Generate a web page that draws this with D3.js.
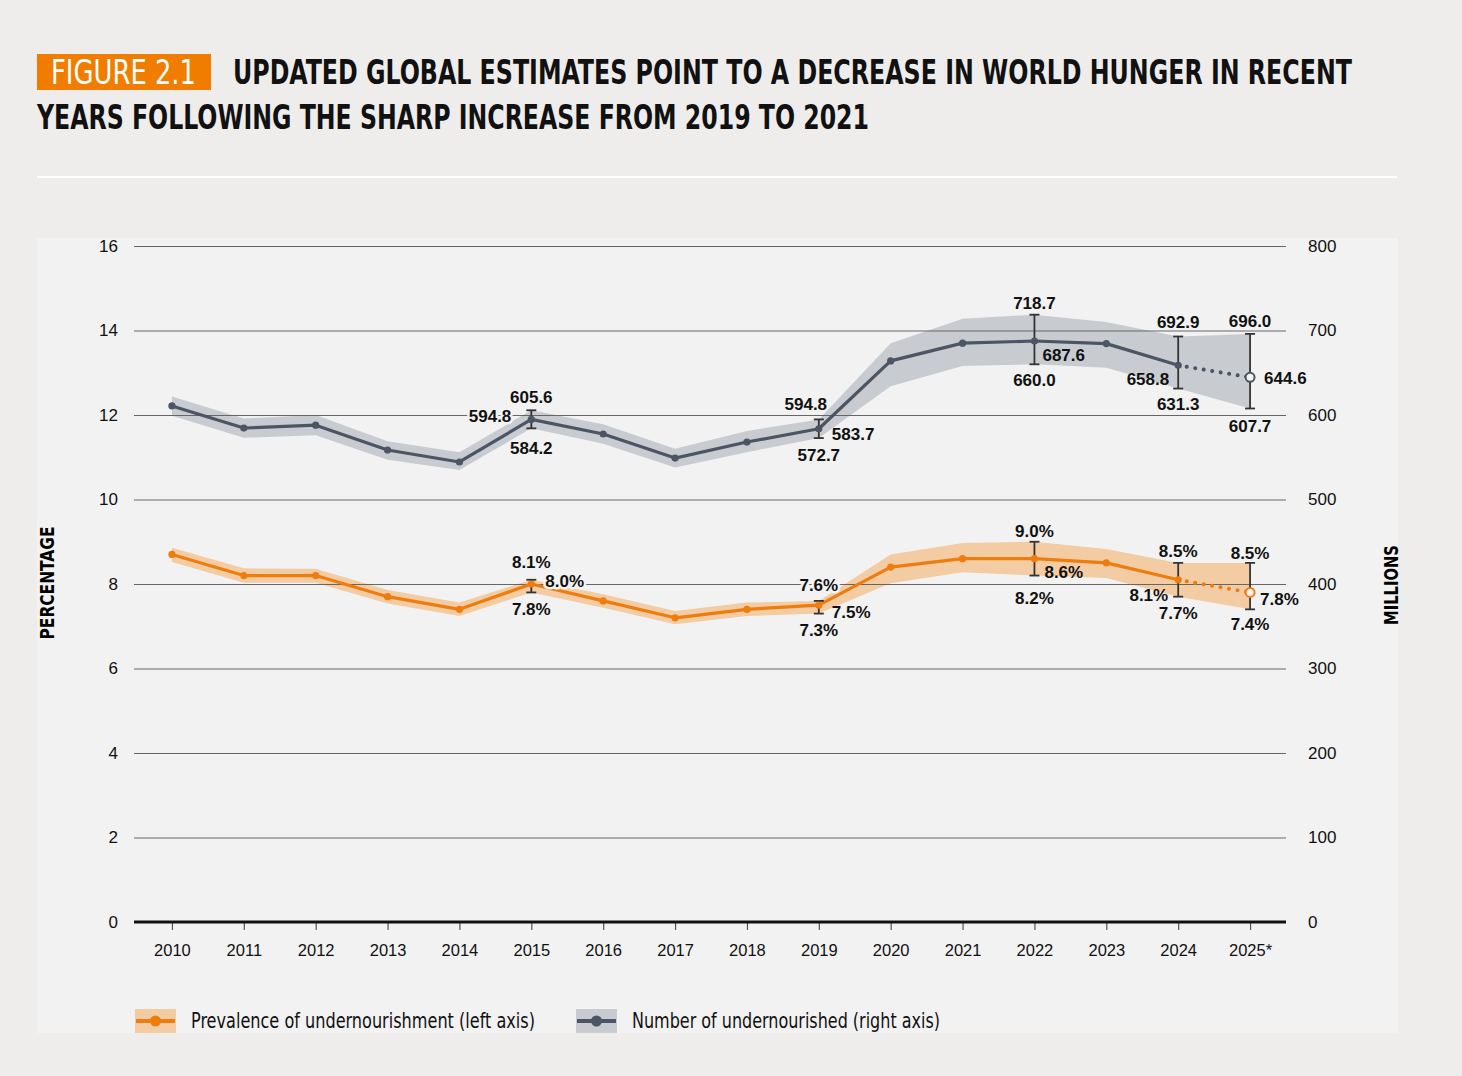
<!DOCTYPE html>
<html><head><meta charset="utf-8">
<script src="https://cdn.jsdelivr.net/npm/d3@7"></script>
<style>
body{margin:0;background:#eeedeb;}
svg{display:block;font-family:"Liberation Sans Narrow","DejaVu Sans Condensed","Liberation Sans",sans-serif;}
.num{font-family:"Liberation Sans",Arial,sans-serif;}
</style></head><body>
<svg id="c" width="1462" height="1076"></svg>
<script>
// ---------- DATA ----------
const years = ["2010","2011","2012","2013","2014","2015","2016","2017","2018","2019","2020","2021","2022","2023","2024","2025*"];
const pouValue = [8.7,8.2,8.2,7.7,7.4,8.0,7.6,7.2,7.4,7.5,8.4,8.6,8.6,8.5,8.1,7.8];
const pouLower = [8.52,8.03,8.03,7.54,7.24,7.8,7.44,7.05,7.24,7.3,8.02,8.28,8.2,8.14,7.7,7.4];
const pouUpper = [8.86,8.37,8.36,7.86,7.56,8.1,7.76,7.36,7.56,7.6,8.7,8.97,9.0,8.83,8.5,8.5];
const nouValue = [610.7,584.6,588.0,558.6,544.4,594.8,577.5,549.0,568.0,583.7,664.0,685.0,687.6,684.5,658.8,644.6];
const nouLower = [599,573,576,547,535,584.2,566,538,556,572.7,634,658,660.0,656,631.3,607.7];
const nouUpper = [622,596,600,569,556,605.6,589,560,581,594.8,685,714,718.7,710,692.9,696.0];
const leftTicks = [0,2,4,6,8,10,12,14,16];
const rightTicks = [0,100,200,300,400,500,600,700,800];
const annotatedYears = ["2015","2019","2022","2024","2025*"];
const projectedFrom = "2024";
const titleTag = "FIGURE 2.1";
const titleLines = ["UPDATED GLOBAL ESTIMATES POINT TO A DECREASE IN WORLD HUNGER IN RECENT","YEARS FOLLOWING THE SHARP INCREASE FROM 2019 TO 2021"];
const legendLabels = ["Prevalence of undernourishment (left axis)","Number of undernourished (right axis)"];
const leftAxisTitle = "PERCENTAGE", rightAxisTitle = "MILLIONS";

// ---------- STYLE / LAYOUT ----------
const C = {orange:"#ee7d0f", orangeBand:"#f3cca4", grey:"#4b5563", greyBand:"#c8ccd1",
           panel:"#f2f2f2", grid:"#666", bar:"#333", tag:"#f07c00"};
const nouLab = {
  "2015":{side:"left", dx:-20,dy:-4, up:-13,upDx:0, dn:19},
  "2019":{side:"right",dx:13, dy:5,  up:-16,upDx:-13, dn:17},
  "2022":{side:"right",dx:8,  dy:14, up:-12,upDx:0, dn:15},
  "2024":{side:"left", dx:-9, dy:13, up:-14.5,upDx:0, dn:15.5},
  "2025*":{side:"right",dx:14,dy:0,  up:-13,upDx:0, dn:17.5}};
const pouLab = {
  "2015":{side:"right",dx:14, dy:-3, up:-18,upDx:0, dn:16},
  "2019":{side:"right",dx:13, dy:6.5,up:-16,upDx:0, dn:16},
  "2022":{side:"right",dx:10, dy:13, up:-11,upDx:0, dn:22},
  "2024":{side:"left", dx:-10,dy:15, up:-12,upDx:0, dn:16},
  "2025*":{side:"right",dx:10,dy:6.5,up:-10,upDx:0, dn:14}};

const svg = d3.select("#c");
const X0=136, X1=1286, YB=922, YT=246;
const x = d3.scalePoint().domain(years).range([X0,X1]).padding(0.5);
const yL = d3.scaleLinear().domain([0,16]).range([YB,YT]);
const yR = d3.scaleLinear().domain([0,800]).range([YB,YT]);

// fit text to a width: shrink font so natural width matches, then stretch vertically back to size
function fitBox(g, px, py, txt, fs, width, attrs){
  const t = g.append("text").attr("x",0).attr("y",0).attr("font-size",fs).text(txt);
  Object.entries(attrs||{}).forEach(([k,v])=>t.attr(k,v));
  const w = t.node().getComputedTextLength();
  const nfs = fs*width/w;
  t.attr("font-size",nfs).attr("transform",`translate(${px},${py}) scale(1,${fs/nfs})`);
  t.attr("textLength",width).attr("lengthAdjust","spacingAndGlyphs");
  return t;
}

// panel
svg.append("rect").attr("x",37).attr("y",238).attr("width",1361).attr("height",795).attr("fill",C.panel);

// title
svg.append("rect").attr("x",37).attr("y",54).attr("width",174).attr("height",36).attr("fill",C.tag);
fitBox(svg,51,84,titleTag,34,145,{fill:"#fff"});
fitBox(svg,233,84,titleLines[0],34,1119,{"font-weight":"bold",fill:"#111"});
fitBox(svg,37,129,titleLines[1],34,832,{"font-weight":"bold",fill:"#111"});
svg.append("line").attr("x1",37).attr("x2",1397).attr("y1",177).attr("y2",177).attr("stroke","#fff").attr("stroke-width",2);

const idx = years.map((y,i)=>i);
const projIdx = years.indexOf(projectedFrom);

// bands
const bandL = d3.area().x(i=>x(years[i])).y0(i=>yL(pouLower[i])).y1(i=>yL(pouUpper[i]));
const bandR = d3.area().x(i=>x(years[i])).y0(i=>yR(nouLower[i])).y1(i=>yR(nouUpper[i]));
svg.append("path").attr("d",bandR(idx)).attr("fill",C.greyBand);
svg.append("path").attr("d",bandL(idx)).attr("fill",C.orangeBand);

// axes
const gL = svg.append("g").attr("transform",`translate(${134},0)`)
  .call(d3.axisLeft(yL).tickValues(leftTicks).tickSize(-(X1-134)).tickPadding(16).tickFormat(d3.format("d")));
gL.select(".domain").remove();
gL.selectAll(".tick line").attr("stroke",C.grid).attr("stroke-width",1.2);
gL.selectAll(".tick text").attr("class","num").attr("font-size",17).attr("fill","#111");
const gR = svg.append("g").attr("transform",`translate(${X1},0)`)
  .call(d3.axisRight(yR).tickValues(rightTicks).tickSize(0).tickPadding(22).tickFormat(d3.format("d")));
gR.select(".domain").remove();
gR.selectAll(".tick text").attr("class","num").attr("font-size",17).attr("fill","#111");
const gB = svg.append("g").attr("transform",`translate(0,${YB})`)
  .call(d3.axisBottom(x).tickSize(8).tickPadding(14));
gB.select(".domain").remove();
gB.selectAll(".tick line").attr("stroke","#555").attr("stroke-width",1.2);
gB.selectAll(".tick text").attr("class","num").attr("font-size",16.5).attr("fill","#111");
svg.append("line").attr("x1",134).attr("x2",X1).attr("y1",yL(0)).attr("y2",yL(0)).attr("stroke","#111").attr("stroke-width",3);

// axis titles
svg.append("text").attr("transform","translate(54,583) rotate(-90)").attr("text-anchor","middle")
  .attr("font-size",20).attr("font-weight","bold").attr("textLength",113).attr("lengthAdjust","spacingAndGlyphs").text(leftAxisTitle);
svg.append("text").attr("transform","translate(1398,585) rotate(-90)").attr("text-anchor","middle")
  .attr("font-size",20).attr("font-weight","bold").attr("textLength",80).attr("lengthAdjust","spacingAndGlyphs").text(rightAxisTitle);

// lines
function drawSeries(vals, yS, color){
  const ln = d3.line().x(i=>x(years[i])).y(i=>yS(vals[i]));
  svg.append("path").attr("d",ln(idx.slice(0,projIdx+1))).attr("fill","none").attr("stroke",color).attr("stroke-width",3.2).attr("stroke-linejoin","round");
  svg.append("path").attr("d",ln(idx.slice(projIdx))).attr("fill","none").attr("stroke",color).attr("stroke-width",4)
    .attr("stroke-linecap","round").attr("stroke-dasharray","0.1 8.5");
}
drawSeries(nouValue,yR,C.grey);
drawSeries(pouValue,yL,C.orange);

// error bars
function drawBars(lo,hi,yS){
  annotatedYears.forEach(yr=>{
    const i=years.indexOf(yr), cx=x(yr);
    const g=svg.append("g").attr("stroke",C.bar).attr("stroke-width",1.8);
    g.append("line").attr("x1",cx).attr("x2",cx).attr("y1",yS(lo[i])).attr("y2",yS(hi[i]));
    g.append("line").attr("x1",cx-5).attr("x2",cx+5).attr("y1",yS(lo[i])).attr("y2",yS(lo[i]));
    g.append("line").attr("x1",cx-5).attr("x2",cx+5).attr("y1",yS(hi[i])).attr("y2",yS(hi[i]));
  });
}
drawBars(nouLower,nouUpper,yR);
drawBars(pouLower,pouUpper,yL);

// points
function drawPoints(vals,yS,color){
  svg.append("g").selectAll("circle").data(idx).join("circle")
    .attr("cx",i=>x(years[i])).attr("cy",i=>yS(vals[i]))
    .attr("r",i=>i>projIdx?4.5:3.6)
    .attr("fill",i=>i>projIdx?C.panel:color)
    .attr("stroke",i=>i>projIdx?color:"none").attr("stroke-width",2);
}
drawPoints(nouValue,yR,C.grey);
drawPoints(pouValue,yL,C.orange);

// labels
const gridPx = leftTicks.map(t=>yL(t));
function label(cx,cy,txt,anchor){
  const crosses = gridPx.some(g=>g>cy-7.5 && g<cy+7.5);
  const t = svg.append("text").attr("class","num").attr("x",cx).attr("y",cy+6.2).attr("text-anchor",anchor)
    .attr("font-size",17).attr("font-weight","bold").attr("fill","#111").text(txt);
  if(crosses) t.attr("stroke",C.panel).attr("stroke-width",5).attr("paint-order","stroke").attr("stroke-linejoin","round");
}
function drawLabels(vals,lo,hi,yS,cfg,fmt){
  annotatedYears.forEach(yr=>{
    const i=years.indexOf(yr), cx=x(yr), c=cfg[yr];
    label(cx+c.upDx, yS(hi[i])+c.up, fmt(hi[i]), "middle");
    label(cx, yS(lo[i])+c.dn, fmt(lo[i]), "middle");
    label(cx+c.dx, yS(vals[i])+c.dy, fmt(vals[i]), c.side==="left"?"end":"start");
  });
}
const f1=d3.format(".1f");
drawLabels(nouValue,nouLower,nouUpper,yR,nouLab,f1);
drawLabels(pouValue,pouLower,pouUpper,yL,pouLab,v=>f1(v)+"%");

// legend
const legend=[{label:legendLabels[0],band:C.orangeBand,line:C.orange,x:135,w:344},
              {label:legendLabels[1],band:C.greyBand,line:C.grey,x:576,w:308}];
legend.forEach(l=>{
  const g=svg.append("g").attr("transform",`translate(${l.x},1009)`);
  g.append("rect").attr("width",41).attr("height",24).attr("fill",l.band);
  g.append("line").attr("x1",1).attr("x2",40).attr("y1",12).attr("y2",12).attr("stroke",l.line).attr("stroke-width",4);
  g.append("circle").attr("cx",20.5).attr("cy",12).attr("r",5.5).attr("fill",l.line);
  fitBox(g,56,19,l.label,21,l.w,{fill:"#111"});
});
</script></body></html>
